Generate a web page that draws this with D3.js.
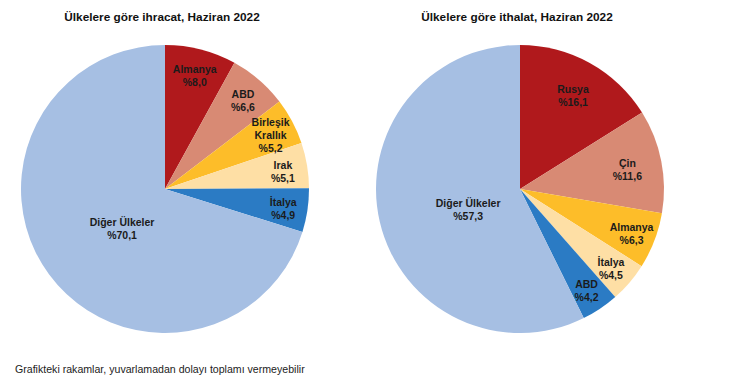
<!DOCTYPE html>
<html>
<head>
<meta charset="utf-8">
<script src="https://cdn.jsdelivr.net/npm/d3@7"></script>
<style>
  body { margin: 0; background: #fff; }
  svg text { font-family: "Liberation Sans", Arial, sans-serif; }
</style>
</head>
<body>
<svg id="chart" width="730" height="377"></svg>
<script>
// export shares, June 2022
var exportCountries = ["Almanya", "ABD", "Birleşik Krallık", "Irak", "İtalya", "Diğer Ülkeler"];
var exportValues = [8.0, 6.6, 5.2, 5.1, 4.9, 70.1];

// import shares, June 2022
var importCountries = ["Rusya", "Çin", "Almanya", "İtalya", "ABD", "Diğer Ülkeler"];
var importValues = [16.1, 11.6, 6.3, 4.5, 4.2, 57.3];

var sliceColors = ["#b0191c", "#d88a74", "#fdbd29", "#fedfa5", "#2b7bc4", "#a6bfe3"];

var titles = ["Ülkelere göre ihracat, Haziran 2022", "Ülkelere göre ithalat, Haziran 2022"];
var note = "Grafikteki rakamlar, yuvarlamadan dolayı toplamı vermeyebilir";

var svg = d3.select("#chart");
var radius = 144;

var pie = d3.pie().sort(null).value(function (d) { return d.value; });
var arc = d3.arc().innerRadius(0).outerRadius(radius);

function fmt(v) {
  return "%" + v.toFixed(1).replace(".", ",");
}

// wrap the two-word "Birleşik Krallık" onto two lines
function nameLines(name) {
  if (name === "Birleşik Krallık") return ["Birleşik", "Krallık"];
  return [name];
}

function labelRadius(v) {
  if (v > 50) return radius * 0.37;
  if (v > 10) return radius * 0.76;
  return radius * 0.83;
}

function drawPie(cx, cy, title, names, values) {
  var data = names.map(function (n, i) { return { name: n, value: values[i] }; });
  var g = svg.append("g").attr("transform", "translate(" + cx + "," + cy + ")");

  g.selectAll("path")
    .data(pie(data))
    .enter()
    .append("path")
    .attr("d", arc)
    .style("fill", function (d, i) { return sliceColors[i]; });

  var labels = g.selectAll(".label")
    .data(pie(data))
    .enter()
    .append("text")
    .attr("class", "label")
    .attr("text-anchor", "middle")
    .style("font-size", "10.5px")
    .style("font-weight", "bold")
    .style("fill", "#1b1b1b")
    .attr("transform", function (d) {
      var r = labelRadius(d.data.value);
      var c = d3.arc().innerRadius(r).outerRadius(r).centroid(d);
      var shift = d.data.value > 50 ? 8 : 2;
      return "translate(" + c[0] + "," + (c[1] + shift) + ")";
    });

  labels.each(function (d) {
    var lines = nameLines(d.data.name).concat([fmt(d.data.value)]);
    var t = d3.select(this);
    var start = -(lines.length - 1) * 13 / 2 + 4;
    lines.forEach(function (l, k) {
      t.append("tspan").attr("x", 0).attr("y", start + k * 13).text(l);
    });
  });

  svg.append("text")
    .attr("x", cx - 3)
    .attr("y", 21)
    .attr("text-anchor", "middle")
    .style("font-size", "11.8px")
    .style("font-weight", "bold")
    .style("fill", "#111")
    .text(title);
}

drawPie(165, 189, titles[0], exportCountries, exportValues);
drawPie(520, 189, titles[1], importCountries, importValues);

svg.append("text")
  .attr("x", 15)
  .attr("y", 373)
  .style("font-size", "10.6px")
  .style("fill", "#222")
  .text(note);
</script>
</body>
</html>
